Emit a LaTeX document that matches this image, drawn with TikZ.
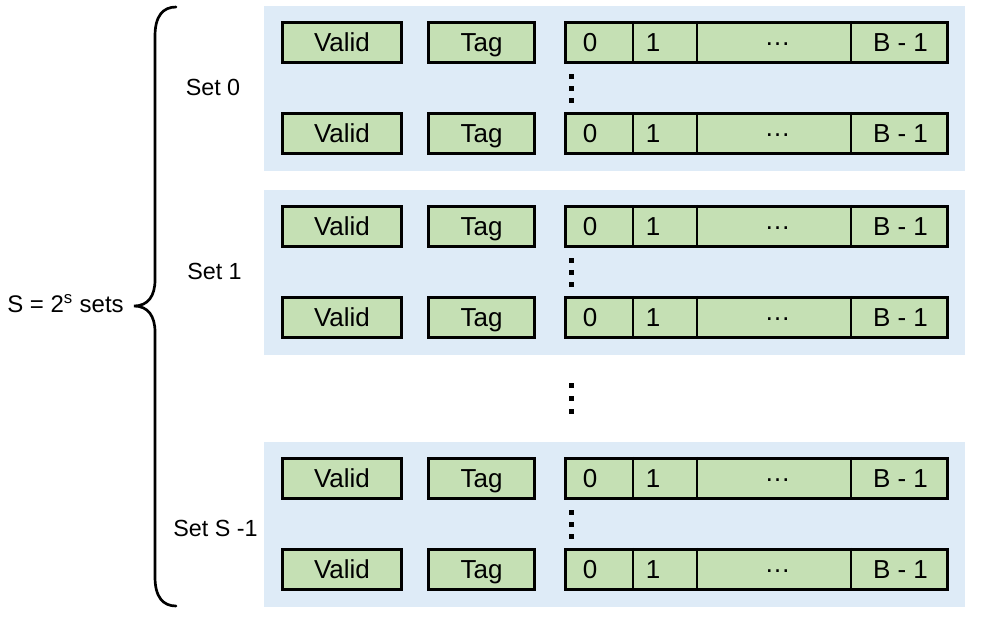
\documentclass[tikz,border=0pt]{standalone}
\usepackage{fontspec}
\setmainfont{Liberation Sans}
\usetikzlibrary{positioning}

\definecolor{fieldGreen}{HTML}{C5E0B4}
\definecolor{setBlue}{HTML}{DEEBF7}

\begin{document}
\begin{tikzpicture}
[x=0.75pt,y=-0.75pt,
  setDecorate/.style={fill=setBlue,inner sep=0pt,anchor=north west,minimum width=526.1pt,minimum height=123.75pt},
  cellText/.style={inner sep=0pt,text height=13.9pt,text depth=0pt,font=\fontsize{19.5}{22}\selectfont},
  fieldDecorate/.style={cellText,draw,fill=fieldGreen,line width=2pt,minimum height=30.4pt},
  setText/.style={inner sep=0pt,text height=12.5pt,text depth=0pt,font=\fontsize{17.5}{21}\selectfont},
  dividerDecorate/.style={-,line width=1pt},
  dotDecorate/.style={fill=black},
  braceDecorate/.style={-,line width=2pt,line cap=round}]
\useasboundingbox (0,0) rectangle (992,639);
%% sets
\foreach \n/\sy/\name/\ly/\lx in {0/6/Set 0/87/213, 1/190/Set 1/271/214.5, 2/442/Set S -1/528/215.5}
{
  \node (back\n) at (263.5,\sy) [setDecorate] {};
  \node (label\n) at (\lx,\ly) [setText] {\name};
  %% lines of the set
  \foreach \r/\dy in {a/36.5, b/127.5}
  {
    \node (valid\n\r) at (342,\sy+\dy) [fieldDecorate,minimum width=89.6pt] {Valid};
    \node (tag\n\r) at (481.5,\sy+\dy) [fieldDecorate,minimum width=79.5pt] {Tag};
    \node (line\n\r) at (756.5,\sy+\dy) [fieldDecorate,minimum width=286.5pt] {};
    \node (zero\n\r) at (590,\sy+\dy) [cellText] {0};
    \node (one\n\r) at (653,\sy+\dy) [cellText] {1};
    \node (more\n\r) at (777.5,\sy+\dy) [cellText] {\raisebox{5pt}{…}};
    \node (last\n\r) at (900.5,\sy+\dy) [cellText] {B - 1};
    \foreach \dx in {633,697,851}
    {
      \draw[dividerDecorate] (\dx,0 |- line\n\r.north) -- (\dx,0 |- line\n\r.south);
    }
  }
  %% dots between the lines
  \foreach \dd in {70,82,94}
  {
    \fill[dotDecorate] (568.5,\sy+\dd-2.5) rectangle ++(5,5);
  }
}
%% dots between the sets
\foreach \dd in {385,398,411}
{
  \fill[dotDecorate] (568.5,\dd-2.5) rectangle ++(5,5);
}
%% brace and its label
\draw[braceDecorate] (176,7) .. controls (163,7) and (155,16) .. (155,36)
  -- (155,280) .. controls (155,296) and (148,306) .. (134,306)
  .. controls (148,306) and (155,316) .. (155,332)
  -- (155,577) .. controls (155,597) and (163,606) .. (176,606);
\node (sizeLabel) at (124,304) [setText,anchor=east,font=\fontsize{18}{21}\selectfont] {S = 2\textsuperscript{s} sets};
\end{tikzpicture}
\end{document}
